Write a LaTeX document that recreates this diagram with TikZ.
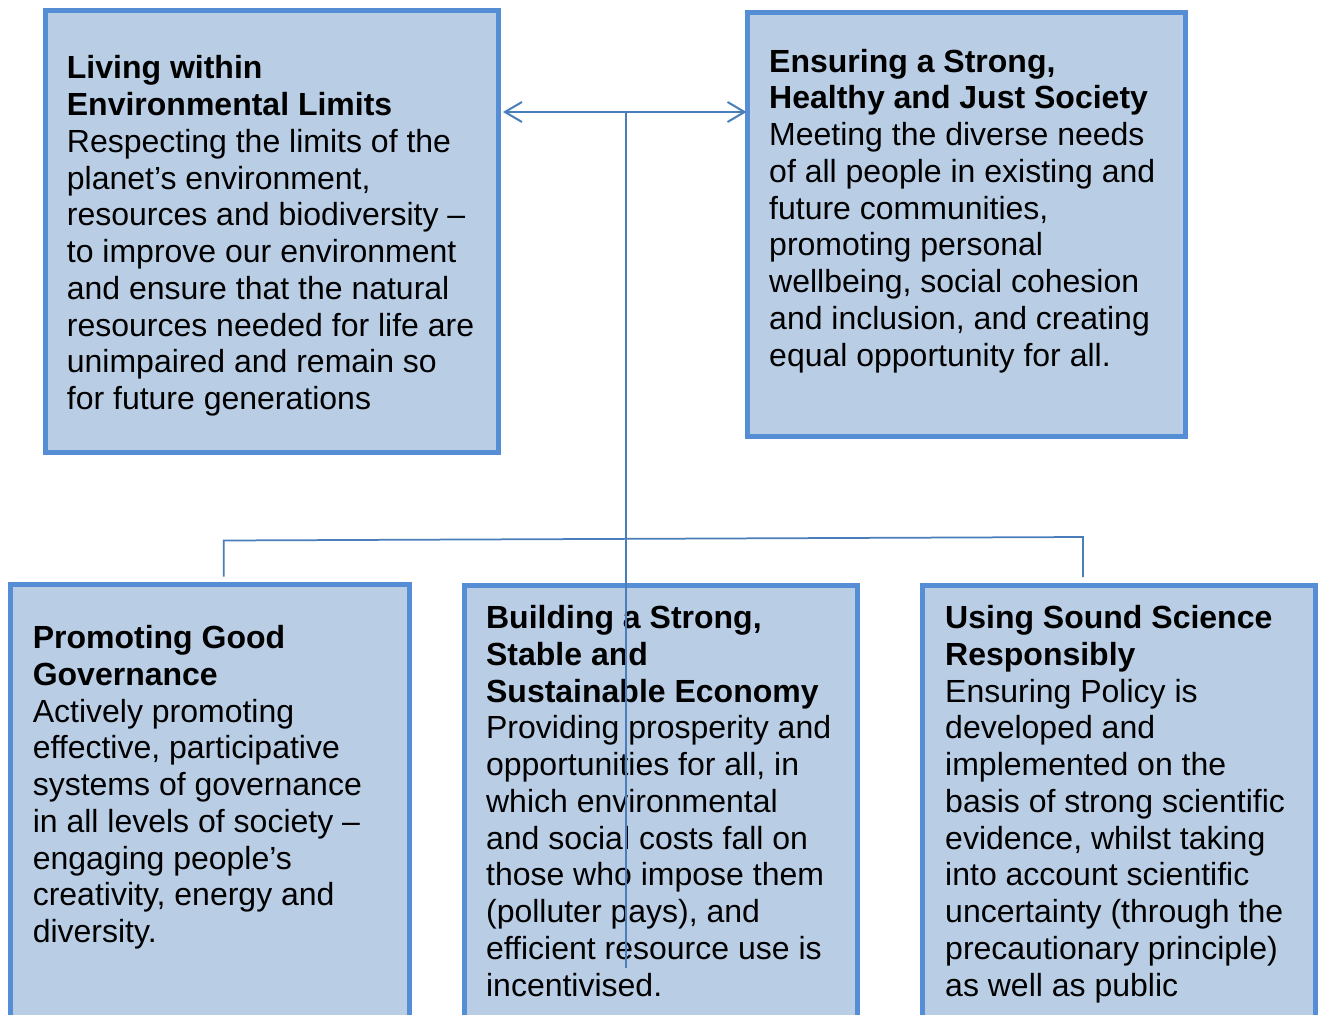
\documentclass[tikz,border=0pt]{standalone}
\usepackage{fontspec}
\setmainfont{Liberation Sans}
\usetikzlibrary{arrows.meta,calc}
\definecolor{boxfill}{HTML}{B9CDE5}
\definecolor{boxline}{HTML}{558ED5}
\definecolor{linkline}{HTML}{4A7EBB}
\begin{document}
\begin{tikzpicture}[x=1pt,y=-1pt,
  box/.style={rectangle, draw=boxline, fill=boxfill, line width=5pt, inner sep=0pt},
  body/.style={anchor=north west, inner sep=0pt, align=left,
               font=\fontsize{32}{36.75}\selectfont},
  link/.style={draw=linkline, line width=2pt},
  >={Straight Barb[length=17pt,width=20pt]}]
\clip (0,0) rectangle (1319,1014);
\fill[white] (0,0) rectangle (1319,1014);

% the five principle boxes
\node[box, minimum width=452.5pt, minimum height=441.5pt] (b1) at (271.75,231.75) {};
\node[box, minimum width=438pt,   minimum height=423.5pt] (b2) at (966.5,224.75) {};
\node[box, minimum width=398.5pt, minimum height=455.5pt] (b3) at (209.75,812.25) {};
\node[box, minimum width=392.5pt, minimum height=454.5pt] (b4) at (660.75,812.75) {};
\node[box, minimum width=393pt,   minimum height=454.5pt] (b5) at (1119,812.75) {};

% box texts
\node[body] (t1) at (66.7,53.0) {\strut\textbf{Living within}\\
  \textbf{Environmental Limits}\\
  Respecting the limits of the\\
  planet’s environment,\\
  resources and biodiversity –\\
  to improve our environment\\
  and ensure that the natural\\
  resources needed for life are\\
  unimpaired and remain so\\
  for future generations};

\node[body] (t2) at (769,46.3) {\strut\textbf{Ensuring a Strong,}\\
  \textbf{Healthy and Just Society}\\
  Meeting the diverse needs\\
  of all people in existing and\\
  future communities,\\
  promoting personal\\
  wellbeing, social cohesion\\
  and inclusion, and creating\\
  equal opportunity for all.};

\node[body] (t3) at (32.6,622.6) {\strut\textbf{Promoting Good}\\
  \textbf{Governance}\\
  Actively promoting\\
  effective, participative\\
  systems of governance\\
  in all levels of society –\\
  engaging people’s\\
  creativity, energy and\\
  diversity.};

\node[body] (t4) at (485.9,602.6) {\strut\textbf{Building a Strong,}\\
  \textbf{Stable and}\\
  \textbf{Sustainable Economy}\\
  Providing prosperity and\\
  opportunities for all, in\\
  which environmental\\
  and social costs fall on\\
  those who impose them\\
  (polluter pays), and\\
  efficient resource use is\\
  incentivised.};

\node[body] (t5) at (945,602.6) {\strut\textbf{Using Sound Science}\\
  \textbf{Responsibly}\\
  Ensuring Policy is\\
  developed and\\
  implemented on the\\
  basis of strong scientific\\
  evidence, whilst taking\\
  into account scientific\\
  uncertainty (through the\\
  precautionary principle)\\
  as well as public};

% connectors
\coordinate (hub) at (626,112);
\coordinate (tail) at (626,967.5);
\draw[link,<->] ($(b1.east|-hub)+(2.5,0)$) -- ($(b2.west|-hub)+(1.5,0)$);
\draw[link] (hub) -- (tail);

\coordinate (gL) at ($(b3.north)+(14,-5.5)$);
\coordinate (gR) at ($(b5.north)+(-36,-6)$);
\draw[link, line width=1.75pt] (gL) -- ++(0,-36) -- ($(gR)+(0,-40)$) -- (gR);
\end{tikzpicture}
\end{document}
